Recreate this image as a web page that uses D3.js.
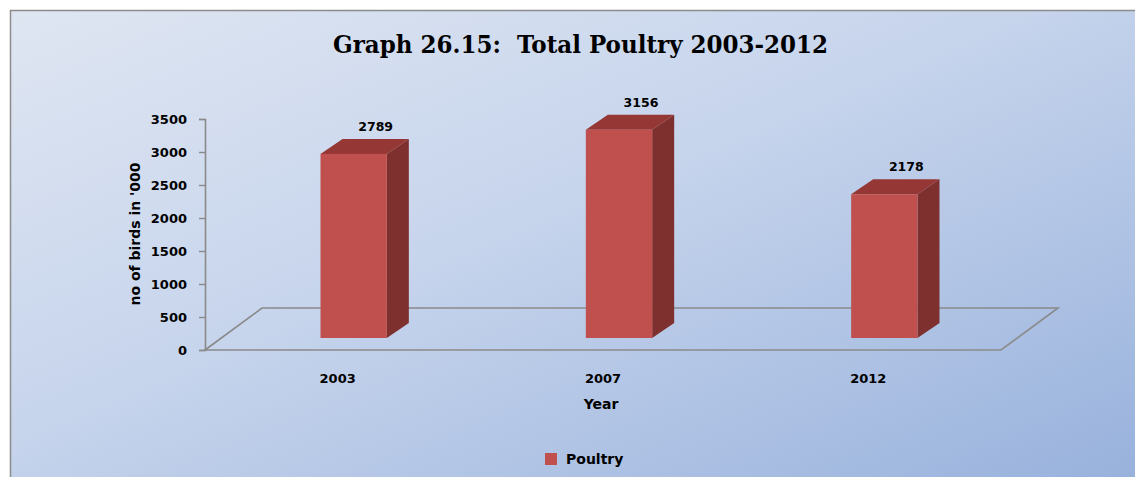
<!DOCTYPE html>
<html>
<head>
<meta charset="utf-8">
<script src="https://cdn.jsdelivr.net/npm/d3@7"></script>
<style>
  body { margin: 0; background: #fff; }
  svg { display: block; }
  text { font-family: "DejaVu Sans", sans-serif; font-weight: bold; fill: #000; }
</style>
</head>
<body>
<div class="chart"></div>
<script>
var years = ["2003", "2007", "2012"];
var poultry = [2789, 3156, 2178];
var yTicks = [0, 500, 1000, 1500, 2000, 2500, 3000, 3500];

var svgWidth = 1135;
var svgHeight = 477;

// plot floor (front edge) and depth offsets of the fake 3D
var floorLeft = 205, floorRight = 1001, floorY = 350, topY = 119;
var depth = { dx: 57, dy: -42 };      // full floor depth
var barFront = { dx: 16, dy: -12 };   // where the bar front face sits
var barDepth = { dx: 22, dy: -15 };   // thickness of the bar

var svg = d3.select(".chart")
  .append("svg")
  .attr("width", svgWidth)
  .attr("height", svgHeight);

// background gradient
var defs = svg.append("defs");
var grad = defs.append("linearGradient")
  .attr("id", "bg")
  .attr("x1", "0%").attr("y1", "0%")
  .attr("x2", "100%").attr("y2", "100%");
grad.append("stop").attr("offset", "0%").attr("stop-color", "#dfe6f2");
grad.append("stop").attr("offset", "45%").attr("stop-color", "#c6d4ec");
grad.append("stop").attr("offset", "100%").attr("stop-color", "#97b1dc");

svg.append("rect")
  .attr("x", 10.5).attr("y", 10.5)
  .attr("width", svgWidth).attr("height", svgHeight)
  .attr("fill", "url(#bg)")
  .attr("stroke", "#8c8c8c")
  .attr("stroke-width", 1.5);

// scales
var x = d3.scaleBand()
  .domain(years)
  .range([floorLeft, floorRight])
  .paddingInner(0.75)
  .paddingOuter(0.375);

var band = d3.scaleBand()
  .domain(years)
  .range([floorLeft, floorRight]);

var y = d3.scaleLinear()
  .domain([0, 3500])
  .range([floorY, topY]);

// floor outline
var floorPts = [
  [floorLeft, floorY],
  [floorLeft + depth.dx, floorY + depth.dy],
  [floorRight + depth.dx, floorY + depth.dy],
  [floorRight, floorY]
];
svg.append("path")
  .attr("d", d3.line()(floorPts) + "Z")
  .attr("fill", "none")
  .attr("stroke", "#8a8a8a")
  .attr("stroke-width", 1.6);

// y axis
var leftAxis = d3.axisLeft(y)
  .tickValues(yTicks)
  .tickFormat(d3.format("d"))
  .tickSize(6)
  .tickPadding(12);
var yAxis = svg.append("g")
  .attr("transform", `translate(${floorLeft}, 0)`)
  .call(leftAxis);
yAxis.select(".domain").attr("stroke", "#8a8a8a").attr("stroke-width", 1.6);
yAxis.selectAll(".tick line").attr("stroke", "#8a8a8a").attr("stroke-width", 1.4);
yAxis.selectAll(".tick text")
  .attr("font-size", 13)
  .style("font-family", "'DejaVu Sans', sans-serif")
  .style("font-weight", "bold")
  .attr("fill", "#000");

// bars
var bars = svg.selectAll(".bar")
  .data(years.map((d, i) => ({ year: d, value: poultry[i] })))
  .enter()
  .append("g")
  .attr("class", "bar");

function face(d) {
  var x0 = x(d.year) + barFront.dx;
  var x1 = x0 + x.bandwidth();
  var yb = floorY + barFront.dy;
  var yt = y(d.value) + barFront.dy;
  return { x0: x0, x1: x1, yb: yb, yt: yt };
}

// side face
bars.append("path")
  .attr("fill", "#7e302e")
  .attr("d", function(d) {
    var f = face(d);
    return d3.line()([
      [f.x1, f.yb], [f.x1, f.yt],
      [f.x1 + barDepth.dx, f.yt + barDepth.dy],
      [f.x1 + barDepth.dx, f.yb + barDepth.dy]
    ]) + "Z";
  });

// top face
bars.append("path")
  .attr("fill", "#953735")
  .attr("d", function(d) {
    var f = face(d);
    return d3.line()([
      [f.x0, f.yt], [f.x1, f.yt],
      [f.x1 + barDepth.dx, f.yt + barDepth.dy],
      [f.x0 + barDepth.dx, f.yt + barDepth.dy]
    ]) + "Z";
  });

// front face
bars.append("rect")
  .attr("fill", "#c0504d")
  .attr("x", d => face(d).x0)
  .attr("y", d => face(d).yt)
  .attr("width", x.bandwidth())
  .attr("height", d => face(d).yb - face(d).yt);

// value labels
bars.append("text")
  .attr("x", d => face(d).x0 + x.bandwidth() / 2 + 22)
  .attr("y", d => face(d).yt + barDepth.dy - 8)
  .attr("text-anchor", "middle")
  .attr("font-size", 12.5)
  .text(d => d.value);

// category labels
svg.selectAll(".cat")
  .data(years)
  .enter()
  .append("text")
  .attr("class", "cat")
  .attr("x", d => band(d) + band.bandwidth() / 2)
  .attr("y", 383)
  .attr("text-anchor", "middle")
  .attr("font-size", 13)
  .text(d => d);

// title
svg.append("text")
  .attr("x", 580.5)
  .attr("y", 53)
  .attr("text-anchor", "middle")
  .attr("textLength", 495)
  .attr("lengthAdjust", "spacingAndGlyphs")
  .style("font-family", "'DejaVu Serif', 'Liberation Serif', serif")
  .attr("font-size", 25)
  .attr("xml:space", "preserve")
  .text("Graph 26.15:  Total Poultry 2003-2012");

// axis titles
svg.append("text")
  .attr("transform", "translate(140, 234) rotate(-90)")
  .attr("text-anchor", "middle")
  .attr("font-size", 14)
  .text("no of birds in '000");

svg.append("text")
  .attr("x", 601)
  .attr("y", 409)
  .attr("text-anchor", "middle")
  .attr("font-size", 14)
  .text("Year");

// legend
svg.append("rect")
  .attr("x", 545).attr("y", 453)
  .attr("width", 12).attr("height", 12)
  .attr("fill", "#c0504d");
svg.append("text")
  .attr("x", 566)
  .attr("y", 464)
  .attr("font-size", 14)
  .text("Poultry");
</script>
</body>
</html>
